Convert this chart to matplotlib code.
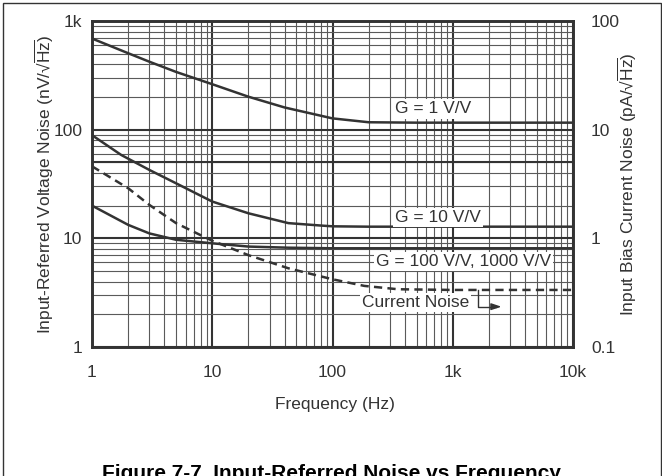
import numpy as np
import matplotlib
matplotlib.use('Agg')
import matplotlib.pyplot as plt
from matplotlib.ticker import LogLocator, FixedLocator, FixedFormatter, NullFormatter
from matplotlib.patches import Rectangle

plt.rcParams['font.family'] = ['Liberation Sans', 'DejaVu Sans']
plt.rcParams['mathtext.fontset'] = 'custom'
plt.rcParams['mathtext.rm'] = 'Liberation Sans'

# voltage noise curves, nV/rtHz
freq_g1 = [1, 2, 3, 5, 10, 20, 40, 100, 200, 500, 1000, 10000]
noise_g1 = [690, 505, 422, 340, 262, 201, 160, 127, 117, 116, 116, 116]

freq_g10 = [1, 1.75, 3, 5, 10, 20, 43, 81, 100, 200, 1000, 10000]
noise_g10 = [89, 58.5, 42.6, 32.1, 21.8, 17.0, 13.8, 13.1, 12.9, 12.8, 12.8, 12.8]

freq_g100 = [1, 2, 3, 5, 10, 20, 43, 100, 1000, 10000]
noise_g100 = [20.0, 13.3, 11.1, 9.7, 9.0, 8.4, 8.2, 8.1, 8.1, 8.1]

# input bias current noise, pA/rtHz (right axis)
freq_in = [1, 2, 3, 5, 7.6, 10, 20, 43, 100, 184, 350, 1000, 10000]
noise_in = [4.6, 2.89, 2.03, 1.38, 1.10, 0.95, 0.70, 0.53, 0.42, 0.365, 0.34, 0.335, 0.335]

x_ticks = [1, 10, 100, 1000, 10000]
x_labels = ['1', '10', '100', '1k', '10k']
yl_ticks = [1, 10, 100, 1000]
yl_labels = ['1', '10', '100', '1k']
yr_ticks = [0.1, 1, 10, 100]
yr_labels = ['0.1', '1', '10', '100']

dark = '#333333'
fs = 12.5

fig = plt.figure(figsize=(6.62, 4.76), dpi=100)
ax = fig.add_axes([92 / 662, 1 - 347 / 476, 481 / 662, 326 / 476])
ax.set_xscale('log')
ax.set_yscale('log')
ax.set_xlim(1, 10000)
ax.set_ylim(1, 1000)

ax.xaxis.set_major_locator(FixedLocator(x_ticks))
ax.xaxis.set_major_formatter(FixedFormatter(x_labels))
ax.xaxis.set_minor_locator(LogLocator(base=10, subs=np.arange(2, 10)))
ax.xaxis.set_minor_formatter(NullFormatter())
ax.yaxis.set_major_locator(FixedLocator(yl_ticks))
ax.yaxis.set_major_formatter(FixedFormatter(yl_labels))
ax.yaxis.set_minor_locator(LogLocator(base=10, subs=np.arange(2, 10)))
ax.yaxis.set_minor_formatter(NullFormatter())

ax.grid(which='major', color=dark, lw=1.5)
ax.grid(which='minor', color='#5a5a5a', lw=0.8)
ax.axhline(50, color=dark, lw=1.5)
ax.set_axisbelow(True)

ax.tick_params(axis='x', which='both', length=0, pad=13, labelsize=fs, labelcolor=dark)
ax.tick_params(axis='y', which='both', length=0, pad=7, labelsize=fs, labelcolor=dark)

ax.plot(freq_g1, noise_g1, color=dark, lw=1.8)
ax.plot(freq_g10, noise_g10, color=dark, lw=1.8)
ax.plot(freq_g100, noise_g100, color=dark, lw=1.8)

box = dict(facecolor='white', edgecolor='none', pad=1.5)
ax.text(681, 155, 'G = 1 V/V', fontsize=fs, color=dark, ha='center', va='center', bbox=box)
ax.text(750, 15.6, 'G = 10 V/V', fontsize=fs, color=dark, ha='center', va='center', bbox=box)
ax.text(1235, 6.1, 'G = 100 V/V, 1000 V/V', fontsize=fs, color=dark, ha='center', va='center', bbox=box)
ax.text(492, 2.55, 'Current Noise', fontsize=fs, color=dark, ha='center', va='center', bbox=box)

ax.set_xlabel('Frequency (Hz)', fontsize=fs, color=dark)
ax.xaxis.set_label_coords(0.505, -0.153)
ax.set_ylabel('Input-Referred Voltage Noise (nV/\u221a' + r'$\overline{\mathrm{Hz}}$)', fontsize=fs,
              color=dark, va='center')
ax.yaxis.set_label_coords(-0.1, 0.5)

ax2 = ax.twinx()
ax2.set_yscale('log')
ax2.set_ylim(0.1, 100)
ax2.yaxis.set_major_locator(FixedLocator(yr_ticks))
ax2.yaxis.set_major_formatter(FixedFormatter(yr_labels))
ax2.yaxis.set_minor_locator(LogLocator(base=10, subs=np.arange(2, 10)))
ax2.yaxis.set_minor_formatter(NullFormatter())
ax2.tick_params(axis='y', which='both', length=0, pad=13, labelsize=fs, labelcolor=dark)
ax2.plot(freq_in, noise_in, color=dark, lw=1.8, dashes=(3.3, 2.1))
ax2.set_ylabel('Input Bias Current Noise (pA/\u221a' + r'$\overline{\mathrm{Hz}}$)', fontsize=fs,
               color=dark, va='center', rotation=90)
ax2.yaxis.set_label_coords(1.114, 0.5)

# arrow from the current noise curve
ax2.plot([1637, 1637, 2300], [0.335, 0.235, 0.235], color=dark, lw=1.0)
ax2.annotate('', xy=(2680, 0.235), xytext=(2200, 0.235),
             arrowprops=dict(arrowstyle='-|>,head_length=0.6,head_width=0.2', color=dark, lw=1.0))

for a in (ax, ax2):
    for s in a.spines.values():
        s.set_linewidth(1.9)
        s.set_color(dark)

fig.patches.append(Rectangle((3 / 662, -0.2), 658 / 662, 1.2 - 3 / 476, transform=fig.transFigure,
                             fill=False, edgecolor=dark, lw=1.0))
fig.text(0.5, 1 - 464 / 476, 'Figure 7-7. Input-Referred Noise vs Frequency', fontsize=15,
         fontweight='bold', ha='center', va='top', color='black')

fig.savefig('out.png', dpi=100)
